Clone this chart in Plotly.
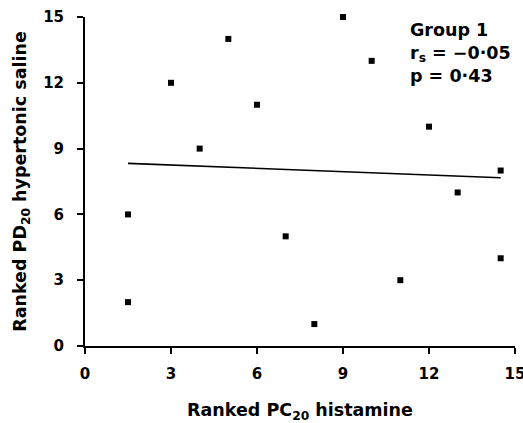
import numpy as np
import plotly.graph_objects as go

# Data (ranks)
x_rank_pc20 = [1.5, 1.5, 3, 4, 5, 6, 7, 8, 9, 10, 11, 12, 13, 14.5, 14.5]
y_rank_pd20 = [6, 2, 12, 9, 14, 11, 5, 1, 15, 13, 3, 10, 7, 8, 4]
tick_vals = [0, 3, 6, 9, 12, 15]

slope, intercept = np.polyfit(x_rank_pc20, y_rank_pd20, 1)
fit_x = [min(x_rank_pc20), max(x_rank_pc20)]
fit_y = [slope * v + intercept for v in fit_x]

font_family = "DejaVu Sans, Arial, sans-serif"

fig = go.Figure()
fig.add_trace(go.Scatter(
    x=x_rank_pc20, y=y_rank_pd20, mode="markers",
    marker=dict(symbol="square", size=6, color="black"),
    cliponaxis=False, showlegend=False,
))
fig.add_trace(go.Scatter(
    x=fit_x, y=fit_y, mode="lines",
    line=dict(color="black", width=1.6),
    cliponaxis=False, showlegend=False,
))

axis_common = dict(
    range=[0, 15], tickvals=tick_vals, showline=True, linecolor="black",
    linewidth=2, ticks="outside", ticklen=6, tickwidth=1.5, tickcolor="black",
    showgrid=False, zeroline=False, automargin=False,
    ticklabeloverflow="allow",
    tickfont=dict(family=font_family, size=15, color="black", weight="bold"),
)

fig.update_layout(
    width=523, height=423,
    margin=dict(l=85, r=8, t=17, b=77),
    paper_bgcolor="white", plot_bgcolor="white",
    font=dict(family=font_family, color="black"),
    xaxis=dict(**axis_common, ticklabelstandoff=7,
               title=dict(text="<b>Ranked PC<sub>20</sub> histamine</b>",
                          font=dict(family=font_family, size=17.5, color="black"),
                          standoff=26)),
    yaxis=dict(**axis_common, ticklabelstandoff=10,
               title=dict(text="<b>Ranked PD<sub>20</sub> hypertonic saline</b>",
                          font=dict(family=font_family, size=17.5, color="black"),
                          standoff=12)),
    annotations=[
        dict(x=0.752, y=0.998, xref="paper", yref="paper", xanchor="left",
             yanchor="top", align="left", showarrow=False,
             text="<b>Group 1<br>r<sub>s</sub> = −0·05<br>p = 0·43</b>",
             font=dict(family=font_family, size=17.5, color="black")),
    ],
)

fig.write_html("out.html",
               config={"displayModeBar": False},
               post_script="document.body.style.margin='0';document.body.style.overflow='hidden';")
